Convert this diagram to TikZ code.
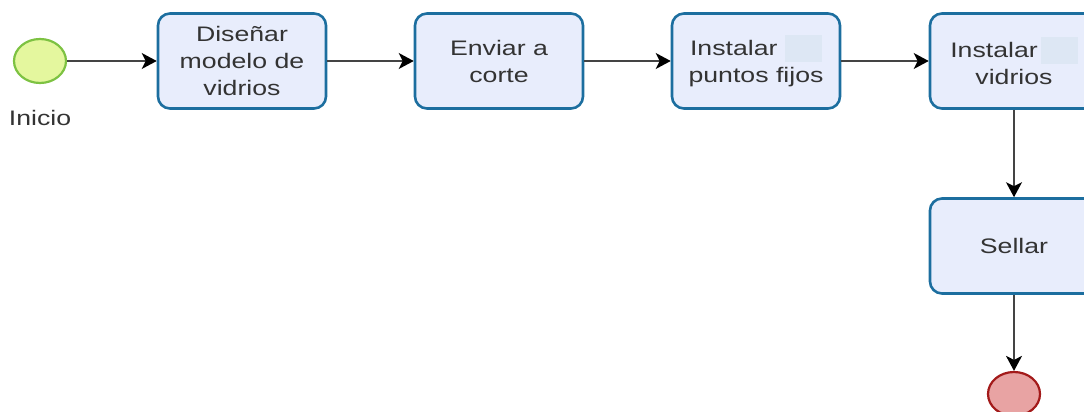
\documentclass[tikz,border=0pt]{standalone}
\usepackage{fontspec}
\setmainfont{Liberation Sans}[FakeStretch=1.27]
\usetikzlibrary{arrows.meta,shapes.geometric}
\definecolor{boxline}{HTML}{1C6E9F}
\definecolor{boxfill}{HTML}{E8EDFC}
\definecolor{txt}{HTML}{333333}
\definecolor{flowline}{HTML}{444444}
\definecolor{startfill}{HTML}{E4F79E}
\definecolor{startline}{HTML}{7DC242}
\definecolor{endfill}{HTML}{E8A3A3}
\definecolor{endline}{HTML}{A31A1A}
\definecolor{hl}{HTML}{DDE7F4}
\begin{document}
\begin{tikzpicture}[x=1pt,y=-1pt,
  task/.style={draw=boxline,fill=boxfill,line width=2.6pt,rounded corners=12pt,
    minimum width=168pt,minimum height=95pt,align=center,text=txt,
    font=\fontsize{21}{27}\selectfont,inner sep=0pt},
  evt/.style={ellipse,line width=2.2pt,minimum width=52pt,minimum height=44pt,inner sep=0pt},
  flow/.style={draw=flowline,line width=1.7pt,-{Stealth[length=15pt,width=16pt,inset=4pt,black]}}]
\useasboundingbox (0,0) rectangle (1084,412);
\clip (0,0) rectangle (1084,412);
\node[evt,draw=startline,fill=startfill] (start) at (40,61) {};
\node[text=txt,font=\fontsize{21}{25}\selectfont] (lbl) at (40,118) {Inicio};
\node[task] (t1) at (242,61) {Diseñar\\modelo de\\vidrios};
\node[task] (t2) at (499,61) {Enviar a\\corte};
\node[task] (t3) at (756,61) {Instalar \textcolor{hl}{\rule[-6pt]{37pt}{27pt}}\\puntos fijos};
\node[task] (t4) at (1014,61) {Instalar\hspace{3pt}\textcolor{hl}{\rule[-6pt]{37pt}{27pt}}\\vidrios};
\node[task] (t5) at (1014,246) {Sellar};
\node[evt,draw=endline,fill=endfill] (end) at (1014,394) {};
\draw[flow] (start) -- (t1);
\draw[flow] (t1) -- (t2);
\draw[flow] (t2) -- (t3);
\draw[flow] (t3) -- (t4);
\draw[flow] (t4) -- (t5);
\draw[flow] (t5) -- (end);
\end{tikzpicture}
\end{document}
